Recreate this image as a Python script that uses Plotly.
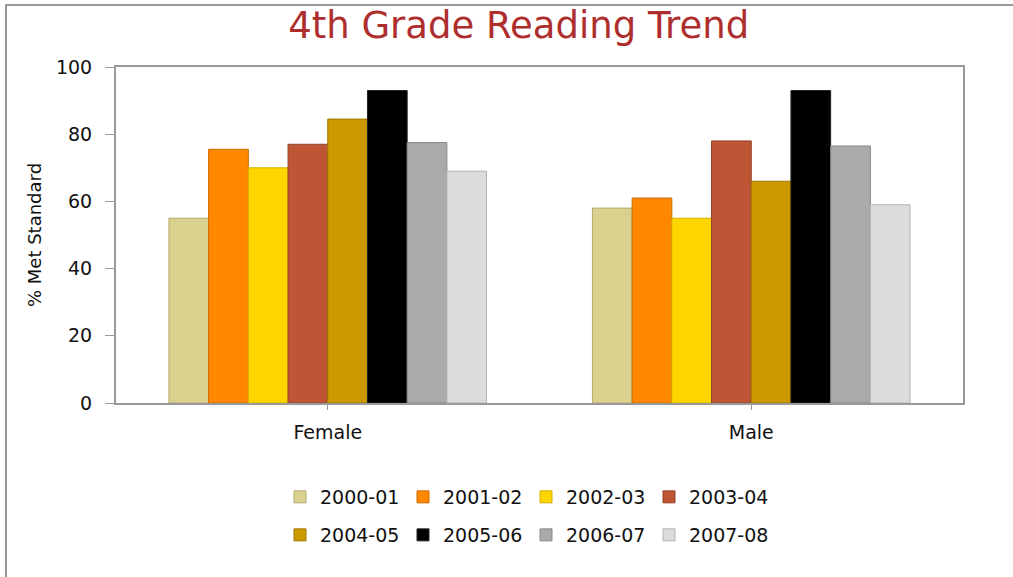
import plotly.graph_objects as go

categories = ["Female", "Male"]
years = ["2000-01", "2001-02", "2002-03", "2003-04", "2004-05", "2005-06", "2006-07", "2007-08"]
v_2000_01 = [55, 58]
v_2001_02 = [75.5, 61]
v_2002_03 = [70, 55]
v_2003_04 = [77, 78]
v_2004_05 = [84.5, 66]
v_2005_06 = [93, 93]
v_2006_07 = [77.5, 76.5]
v_2007_08 = [69, 59]
values = [v_2000_01, v_2001_02, v_2002_03, v_2003_04, v_2004_05, v_2005_06, v_2006_07, v_2007_08]

fills = ["#DBD18F", "#FF8800", "#FFD500", "#BE5635", "#CC9900", "#000000", "#AAAAAA", "#DCDCDC"]
edges = ["#B3AA6E", "#CC6C00", "#D4AE00", "#94402A", "#9E7700", "#222222", "#888888", "#B4B4B4"]

W, H = 1013, 577
L, R, T, B = 116, 50, 67, 174
ph = H - T - B

def py(pix):
    return 1 - (pix - T) / ph

def px(pix):
    return (pix - L) / (W - L - R)

fig = go.Figure()
for i, (yr, vals) in enumerate(zip(years, values)):
    fig.add_trace(go.Bar(
        x=categories, y=vals, name=yr,
        marker=dict(color=fills[i], line=dict(color=edges[i], width=1)),
        legend="legend" if i < 4 else "legend2",
    ))

font_main = "DejaVu Sans, Verdana, sans-serif"
leg_common = dict(
    orientation="h", xanchor="left", yanchor="middle",
    font=dict(family=font_main, size=19, color="#111111"),
    bgcolor="rgba(0,0,0,0)", entrywidth=78, entrywidthmode="pixels",
    traceorder="normal",
)

fig.update_layout(
    width=W, height=H,
    margin=dict(l=L, r=R, t=T, b=B, autoexpand=False),
    paper_bgcolor="white", plot_bgcolor="white",
    title=dict(text="4th Grade Reading Trend", x=0.512, xanchor="center",
               y=1 - 25 / H, yanchor="middle", yref="container",
               font=dict(family=font_main, size=37, color="#AE2E2E")),
    barmode="group", bargap=0.25, bargroupgap=0,
    xaxis=dict(showline=True, mirror=True, linecolor="#999999", linewidth=2,
               ticks="outside", ticklen=5, tickcolor="#999999",
               ticklabelstandoff=6,
               tickfont=dict(family=font_main, size=19, color="#111111"),
               showgrid=False, fixedrange=True),
    yaxis=dict(range=[0, 100], tickvals=[0, 20, 40, 60, 80, 100],
               showline=True, mirror=True, linecolor="#999999", linewidth=2,
               ticks="outside", ticklen=9, tickcolor="#999999",
               ticklabelstandoff=9,
               tickfont=dict(family=font_main, size=19, color="#111111"),
               showgrid=False, zeroline=False,
               title=dict(text="% Met Standard", font=dict(family=font_main, size=18, color="#111111"),
                          standoff=10)),
    legend=dict(x=px(280), y=py(497), **leg_common),
    legend2=dict(x=px(280), y=py(535), **leg_common),
    showlegend=True,
    shapes=[dict(type="rect", xref="paper", yref="paper",
                 x0=px(6), x1=px(1030), y0=py(600), y1=py(5),
                 line=dict(color="#999999", width=2), fillcolor="rgba(0,0,0,0)", layer="below")],
)

fig.write_html("out.html", config={"displayModeBar": False},
               post_script="document.body.style.margin='0';document.body.style.overflow='hidden';")
